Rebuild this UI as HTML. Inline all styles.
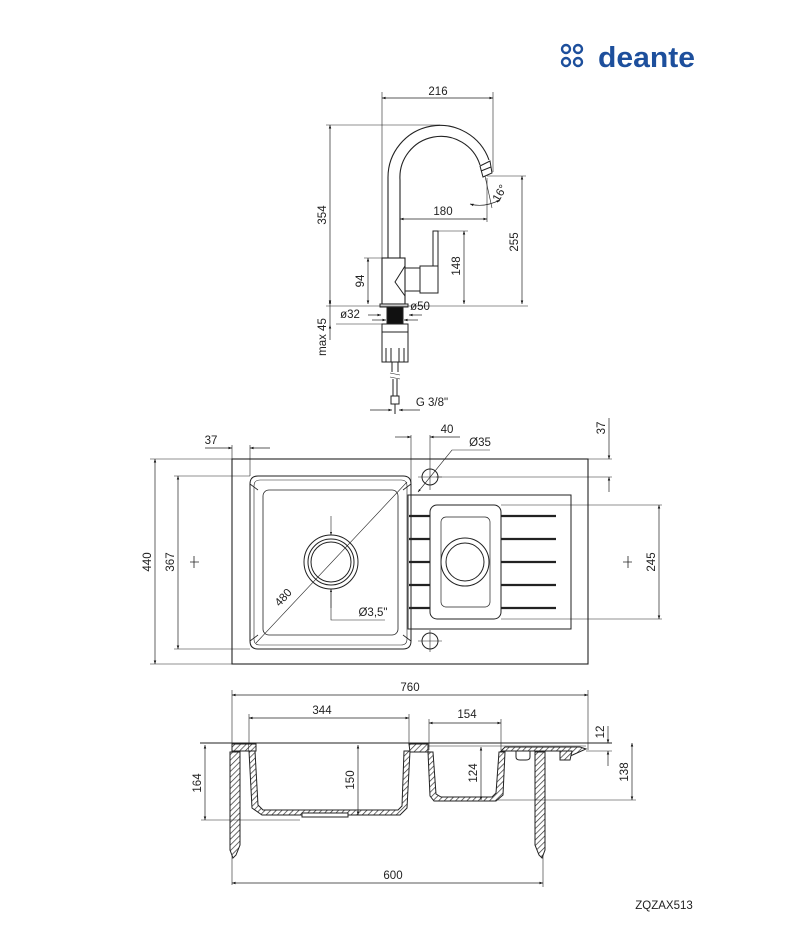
<!DOCTYPE html>
<html><head><meta charset="utf-8"><style>
html,body{margin:0;padding:0;background:#fff;}
svg{display:block;}
text{font-family:"Liberation Sans",sans-serif;font-size:11.5px;fill:#222;}
</style></head><body>
<svg width="800" height="950" viewBox="0 0 800 950" xmlns="http://www.w3.org/2000/svg">
<defs>
<pattern id="h" width="4" height="4" patternUnits="userSpaceOnUse" patternTransform="rotate(45)">
<rect width="4" height="4" fill="#fff"/><line x1="0" y1="0" x2="0" y2="4" stroke="#333" stroke-width="1.4"/>
</pattern>
<marker id="a" viewBox="0 0 10 10" refX="10" refY="5" markerWidth="7" markerHeight="5" orient="auto-start-reverse">
<path d="M0,1.5 L10,5 L0,8.5 z" fill="#111"/></marker>
</defs>

<!-- logo -->
<g fill="none" stroke="#1d4f9c" stroke-width="2.4">
<circle cx="566" cy="49" r="4"/>
<circle cx="578" cy="49" r="4"/>
<circle cx="566" cy="62" r="4"/>
<circle cx="578" cy="62" r="4"/>
</g>
<text x="598" y="67" textLength="97" lengthAdjust="spacingAndGlyphs" style="font-size:29px;fill:#1d4f9c;font-weight:bold;">deante</text>

<g fill="none" stroke="#222" stroke-width="1">
<!-- ===== FAUCET ===== -->
<line x1="382" y1="98" x2="493" y2="98" marker-start="url(#a)" marker-end="url(#a)" stroke-width="0.7"/>
<line x1="382" y1="92" x2="382" y2="304" stroke-width="0.6"/>
<line x1="493" y1="92" x2="493" y2="172" stroke-width="0.6"/>
<line x1="326" y1="125" x2="440" y2="125" stroke-width="0.6"/>
<line x1="330" y1="125" x2="330" y2="304" marker-start="url(#a)" marker-end="url(#a)" stroke-width="0.7"/>
<line x1="326" y1="306" x2="528" y2="306" stroke-width="0.6"/>
<line x1="400" y1="219" x2="487" y2="219" marker-start="url(#a)" marker-end="url(#a)" stroke-width="0.7"/>
<line x1="487" y1="178" x2="487" y2="222" stroke-width="0.6"/>
<line x1="487" y1="176" x2="526" y2="176" stroke-width="0.6"/>
<line x1="522" y1="176" x2="522" y2="304" marker-start="url(#a)" marker-end="url(#a)" stroke-width="0.7"/>
<line x1="438" y1="231" x2="468" y2="231" stroke-width="0.6"/>
<line x1="464" y1="231" x2="464" y2="304" marker-start="url(#a)" marker-end="url(#a)" stroke-width="0.7"/>
<line x1="364" y1="258" x2="382" y2="258" stroke-width="0.6"/>
<line x1="368" y1="258" x2="368" y2="304" marker-start="url(#a)" marker-end="url(#a)" stroke-width="0.7"/>
<path d="M470,204 Q484,208 500,200" stroke-width="0.7" marker-start="url(#a)" marker-end="url(#a)"/>
<line x1="485" y1="176" x2="492" y2="208" stroke-width="0.6"/>
<line x1="336" y1="324" x2="387" y2="324" stroke-width="0.6"/>
<line x1="372" y1="320" x2="386" y2="320" marker-end="url(#a)" stroke-width="0.7"/>
<line x1="418" y1="320" x2="404" y2="320" marker-end="url(#a)" stroke-width="0.7"/>
<line x1="368" y1="315" x2="381" y2="315" marker-end="url(#a)" stroke-width="0.7"/>
<line x1="422" y1="315" x2="409" y2="315" marker-end="url(#a)" stroke-width="0.7"/>
<line x1="330" y1="306" x2="330" y2="325" stroke-width="0.7"/>
<line x1="330" y1="340" x2="330" y2="325" marker-end="url(#a)" stroke-width="0.7"/>
<line x1="330" y1="306" x2="330" y2="300" marker-end="url(#a)" stroke-width="0.7"/>
<line x1="370" y1="410" x2="392" y2="410" marker-end="url(#a)" stroke-width="0.7"/>
<line x1="420" y1="410" x2="399" y2="410" marker-end="url(#a)" stroke-width="0.7"/>
<!-- spout -->
<path d="M388,258 L388,178 A52,52 0 0 1 489,160" stroke-width="1.1"/>
<path d="M400,258 L400,180 A41,41 0 0 1 480,165" stroke-width="1.1"/>
<path d="M480,166 L490,161 L492,173 L483,177 z" stroke-width="1"/>
<line x1="481" y1="171" x2="491" y2="167"/>
<rect x="382" y="258" width="23" height="46" stroke-width="1.1"/>
<path d="M405,266 L395,282 L405,296" />
<path d="M405,268 L420,268 L420,291 L405,291"/>
<rect x="420" y="266" width="18" height="27"/>
<rect x="433" y="231" width="5" height="35"/>
<rect x="380" y="304" width="28" height="3"/>
<rect x="387" y="307" width="16" height="17" fill="#111"/>
<rect x="382" y="324" width="26" height="8"/>
<path d="M382,332 L382,362 L408,362 L408,332"/>
<path d="M386,348 L386,362 M391,348 L391,362 M399,348 L399,362 M404,348 L404,362"/>
<path d="M392,362 L392,372 M398,362 L398,372"/>
<path d="M390,373 L400,375 M390,377 L400,379" stroke-width="0.6"/>
<path d="M393,379 L393,396 M397,379 L397,396"/>
<rect x="391" y="396" width="8" height="8"/>
<line x1="395" y1="404" x2="395" y2="414"/>

<!-- ===== TOP VIEW ===== -->
<rect x="232" y="459" width="356" height="205" stroke-width="1.1"/>
<path d="M258,476 L403,476 Q411,476 411,484 L411,641 Q411,649 403,649 L258,649 Q250,649 250,641 L250,484 Q250,476 258,476 z"/>
<path d="M260,480 L401,480 Q407,480 407,486 L407,639 Q407,645 401,645 L260,645 Q254,645 254,639 L254,486 Q254,480 260,480 z" stroke-width="0.6"/>
<rect x="263" y="490" width="135" height="145" rx="6" stroke-width="0.8"/>
<path d="M250,484 L258,490 M411,484 L403,490 M250,641 L258,635 M411,641 L403,635" stroke-width="0.8"/>
<circle cx="331" cy="562" r="27"/><circle cx="331" cy="562" r="23"/><circle cx="331" cy="562" r="20"/>
<line x1="256" y1="643" x2="407" y2="482" stroke-width="0.6"/>
<line x1="331" y1="516" x2="331" y2="535" marker-end="url(#a)" stroke-width="0.6"/>
<line x1="331" y1="608" x2="331" y2="589" marker-end="url(#a)" stroke-width="0.6"/>
<path d="M331,589 L331,620 L385,620" stroke-width="0.6"/>
<rect x="408" y="495" width="163" height="134"/>
<rect x="430" y="505" width="71" height="114" rx="7"/>
<rect x="441" y="517" width="49" height="90" rx="5" stroke-width="0.7"/>
<circle cx="465" cy="562" r="24"/><circle cx="465" cy="562" r="19"/>
<g stroke-width="2.2">
<line x1="409" y1="516" x2="430" y2="516"/><line x1="409" y1="539" x2="430" y2="539"/><line x1="409" y1="562" x2="430" y2="562"/><line x1="409" y1="585" x2="430" y2="585"/><line x1="409" y1="608" x2="430" y2="608"/>
<line x1="501" y1="516" x2="556" y2="516"/><line x1="501" y1="539" x2="556" y2="539"/><line x1="501" y1="562" x2="556" y2="562"/><line x1="501" y1="585" x2="556" y2="585"/><line x1="501" y1="608" x2="556" y2="608"/>
</g>
<circle cx="430" cy="477" r="8"/><line x1="418" y1="477" x2="442" y2="477" stroke-width="0.6"/>
<circle cx="430" cy="641" r="8"/><line x1="418" y1="641" x2="442" y2="641" stroke-width="0.6"/><line x1="430" y1="630" x2="430" y2="652" stroke-width="0.6"/>
<line x1="150" y1="459" x2="232" y2="459" stroke-width="0.6"/>
<line x1="150" y1="664" x2="232" y2="664" stroke-width="0.6"/>
<line x1="155" y1="459" x2="155" y2="664" marker-start="url(#a)" marker-end="url(#a)" stroke-width="0.7"/>
<line x1="174" y1="476" x2="250" y2="476" stroke-width="0.6"/>
<line x1="174" y1="649" x2="250" y2="649" stroke-width="0.6"/>
<line x1="178" y1="476" x2="178" y2="649" marker-start="url(#a)" marker-end="url(#a)" stroke-width="0.7"/>
<path d="M194,556 L194,568 M190,562 L199,562" stroke-width="0.8"/>
<line x1="205" y1="448" x2="232" y2="448" marker-end="url(#a)" stroke-width="0.7"/>
<line x1="270" y1="448" x2="250" y2="448" marker-end="url(#a)" stroke-width="0.7"/>
<line x1="250" y1="445" x2="250" y2="476" stroke-width="0.6"/>
<line x1="232" y1="445" x2="232" y2="459" stroke-width="0.6"/>
<line x1="395" y1="437" x2="411" y2="437" marker-end="url(#a)" stroke-width="0.7"/>
<line x1="460" y1="437" x2="430" y2="437" marker-end="url(#a)" stroke-width="0.7"/>
<line x1="411" y1="435" x2="411" y2="495" stroke-width="0.6"/>
<line x1="430" y1="435" x2="430" y2="490" stroke-width="0.6"/>
<path d="M490,450 L452,450 L418,492" stroke-width="0.6" marker-end="url(#a)"/>
<line x1="588" y1="459" x2="612" y2="459" stroke-width="0.6"/>
<line x1="436" y1="477" x2="612" y2="477" stroke-width="0.6"/>
<line x1="609" y1="418" x2="609" y2="459" marker-end="url(#a)" stroke-width="0.7"/>
<line x1="609" y1="492" x2="609" y2="477" marker-end="url(#a)" stroke-width="0.7"/>
<line x1="501" y1="505" x2="662" y2="505" stroke-width="0.6"/>
<line x1="501" y1="619" x2="662" y2="619" stroke-width="0.6"/>
<line x1="659" y1="505" x2="659" y2="619" marker-start="url(#a)" marker-end="url(#a)" stroke-width="0.7"/>
<path d="M628,556 L628,568 M623,562 L632,562" stroke-width="0.8"/>

<!-- ===== SIDE VIEW ===== -->
<line x1="232" y1="695" x2="588" y2="695" marker-start="url(#a)" marker-end="url(#a)" stroke-width="0.7"/>
<line x1="232" y1="690" x2="232" y2="885" stroke-width="0.6"/>
<line x1="588" y1="690" x2="588" y2="750" stroke-width="0.6"/>
<line x1="249" y1="718" x2="409" y2="718" marker-start="url(#a)" marker-end="url(#a)" stroke-width="0.7"/>
<line x1="249" y1="714" x2="249" y2="745" stroke-width="0.6"/>
<line x1="409" y1="714" x2="409" y2="745" stroke-width="0.6"/>
<line x1="429" y1="723" x2="501" y2="723" marker-start="url(#a)" marker-end="url(#a)" stroke-width="0.7"/>
<line x1="429" y1="719" x2="429" y2="750" stroke-width="0.6"/>
<line x1="501" y1="719" x2="501" y2="750" stroke-width="0.6"/>
<line x1="200" y1="743" x2="612" y2="743" stroke-width="1"/>
<path d="M410,746 L586,746" stroke-width="0.6"/>
<path d="M232,744 L249,744 L249,751 L232,751 z" fill="url(#h)"/>
<path d="M240,751 L249,751 L252,808 L262,815 L400,815 L407,808 L410,751 L404,751 L402,806 L398,810 L263,810 L258,805 L255,751 z" fill="url(#h)"/>
<path d="M249,744 L256,744 L256,751 L249,751" fill="url(#h)"/>
<rect x="302" y="813" width="46" height="4" fill="#fff"/>
<path d="M409,744 L428,744 L428,752 L410,752 z" fill="url(#h)"/>
<path d="M428,752 L433,752 L436,794 L441,797 L492,797 L496,793 L499,752 L505,752 L503,795 L496,801 L434,801 L430,796 z" fill="url(#h)"/>
<path d="M501,751 L505,747 L580,747 L586,749 L568,757 L560,751 z" fill="url(#h)"/>
<path d="M560,751 L572,751 L570,760 L560,760 z" fill="url(#h)"/>
<path d="M516,751 L516,757 Q516,760 520,760 L526,760 Q530,760 530,757 L530,751"/>
<path d="M230,752 L240,752 L240,845 L236,855 L233,858 L230,850 z" fill="url(#h)"/>
<path d="M535,752 L545,752 L545,850 L542,858 L539,855 L535,845 z" fill="url(#h)"/>
<line x1="358" y1="745" x2="358" y2="815" marker-start="url(#a)" marker-end="url(#a)" stroke-width="0.7"/>
<line x1="481" y1="747" x2="481" y2="800" marker-start="url(#a)" marker-end="url(#a)" stroke-width="0.7"/>
<line x1="201" y1="820" x2="300" y2="820" stroke-width="0.6"/>
<line x1="205" y1="745" x2="205" y2="820" marker-start="url(#a)" marker-end="url(#a)" stroke-width="0.7"/>
<line x1="496" y1="800" x2="636" y2="800" stroke-width="0.6"/>
<line x1="632" y1="743" x2="632" y2="800" marker-start="url(#a)" marker-end="url(#a)" stroke-width="0.7"/>
<line x1="586" y1="751" x2="612" y2="751" stroke-width="0.6"/>
<line x1="608" y1="726" x2="608" y2="743" marker-end="url(#a)" stroke-width="0.7"/>
<line x1="608" y1="766" x2="608" y2="751" marker-end="url(#a)" stroke-width="0.7"/>
<line x1="232" y1="883" x2="543" y2="883" marker-start="url(#a)" marker-end="url(#a)" stroke-width="0.7"/>
<line x1="543" y1="855" x2="543" y2="887" stroke-width="0.6"/>
</g>

<text x="438" y="95" text-anchor="middle">216</text>
<text x="443" y="215" text-anchor="middle">180</text>
<text transform="translate(326,215) rotate(-90)" text-anchor="middle">354</text>
<text transform="translate(518,242) rotate(-90)" text-anchor="middle">255</text>
<text transform="translate(460,266) rotate(-90)" text-anchor="middle">148</text>
<text transform="translate(364,281) rotate(-90)" text-anchor="middle">94</text>
<text transform="translate(503,195) rotate(-60)" text-anchor="middle">16°</text>
<text x="420" y="310" text-anchor="middle">ø50</text>
<text x="350" y="318" text-anchor="middle">ø32</text>
<text transform="translate(326,337) rotate(-90)" text-anchor="middle">max 45</text>
<text x="432" y="406" text-anchor="middle">G 3/8"</text>
<text x="211" y="444" text-anchor="middle">37</text>
<text x="447" y="433" text-anchor="middle">40</text>
<text x="480" y="446" text-anchor="middle">Ø35</text>
<text transform="translate(605,428) rotate(-90)" text-anchor="middle">37</text>
<text transform="translate(151,562) rotate(-90)" text-anchor="middle">440</text>
<text transform="translate(174,562) rotate(-90)" text-anchor="middle">367</text>
<text transform="translate(655,562) rotate(-90)" text-anchor="middle">245</text>
<text transform="translate(286,600) rotate(-47)" text-anchor="middle">480</text>
<text x="373" y="616" text-anchor="middle">Ø3,5"</text>
<text x="410" y="691" text-anchor="middle">760</text>
<text x="322" y="714" text-anchor="middle">344</text>
<text x="467" y="718" text-anchor="middle">154</text>
<text transform="translate(354,780) rotate(-90)" text-anchor="middle">150</text>
<text transform="translate(477,773) rotate(-90)" text-anchor="middle">124</text>
<text transform="translate(201,783) rotate(-90)" text-anchor="middle">164</text>
<text transform="translate(628,772) rotate(-90)" text-anchor="middle">138</text>
<text transform="translate(604,732) rotate(-90)" text-anchor="middle">12</text>
<text x="393" y="879" text-anchor="middle">600</text>
<text x="664" y="909" text-anchor="middle">ZQZAX513</text>
</svg>
</body></html>
